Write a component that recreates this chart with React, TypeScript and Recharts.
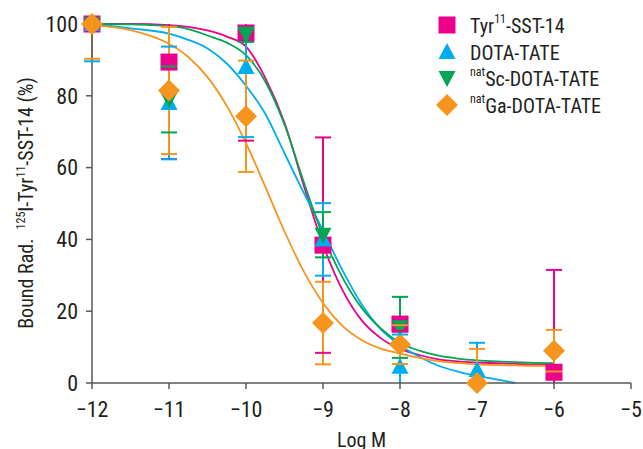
import { ComposedChart, Line, Scatter, XAxis, YAxis, Legend, Label } from 'recharts';

const FONT = "'Liberation Sans Narrow', 'Roboto Condensed', 'DejaVu Sans Condensed', sans-serif";

// measured points (log M), mean and +/- error, null = no point
const logM = [-12, -11, -10, -9, -8, -7, -6];
const tyrMean = [100, 89.4, 97.5, 38.4, 16.4, null, 3];
const tyrErr = [0, 27, 30, 30, 2, null, 28.5];
const dotaMean = [100, 78, 88, 40, 4.5, 3.6, null];
const dotaErr = [10.4, 15.7, 19.5, 10.1, 9, 7.6, null];
const scMean = [100, 79, 97, 41.3, 15.5, null, null];
const scErr = [0, 9.2, 2, 6.3, 8.5, null, null];
const gaMean = [100, 81.5, 74.3, 16.7, 10.7, 0, 9];
const gaErr = [9.7, 17.7, 15.5, 11.5, 5.4, 9.5, 5.8];

// fitted curves
const fitX = [-12, -11.5, -11, -10.75, -10.5, -10.25, -10, -9.75, -9.5, -9.25, -9, -8.75, -8.5, -8.25, -8, -7.75, -7.5, -7.25, -7, -6.75, -6.5, -6.25, -6];
const tyrFit = [100, 100, 99.7, 99.2, 98.2, 96.5, 93.7, 85, 72.5, 55, 38.5, 26, 17.5, 12.5, 9.5, 7.8, 6.6, 6.0, 5.7, 5.5, 5.3, 5.2, 5.2];
const dotaFit = [100, 98.8, 97.3, 95.6, 93.2, 89, 82.8, 75, 64, 53, 42.5, 31.5, 22, 15, 10.5, 7.3, 4.8, 3.2, 2.0, 1.0, 0, null, null];
const scFit = [100, 99.9, 99.4, 98.6, 96.8, 94.8, 91.3, 84, 72, 56, 41, 29.5, 21, 15.2, 11.2, 9, 7.6, 6.8, 6.3, 6.0, 5.8, 5.6, 5.5];
const gaFit = [99.7, 98.3, 94.5, 90.8, 85.2, 77.2, 66.8, 54.7, 42.2, 31.1, 22.3, 16, 12, 9.6, 8.2, 7.0, 6.1, 5.6, 5.2, 5.0, 4.9, 4.8, 4.8];

const xTicks = [-12, -11, -10, -9, -8, -7, -6, -5];
const yTicks = [0, 20, 40, 60, 80, 100];

const C_TYR = '#ec008c';
const C_DOTA = '#00aeef';
const C_SC = '#00a651';
const C_GA = '#f7941d';

const pts = (mean) =>
  logM.map((x, i) => ({ x, y: mean[i] })).filter(p => p.y !== null);
const fit = ys => fitX.map((x, i) => ({ x, y: ys[i] }));

// error bar stems: pairs of points split by nulls, clipped to the axis range
const stems = (mean, err) => {
  const out = [];
  logM.forEach((x, i) => {
    if (mean[i] === null || !err[i]) return;
    out.push({ x, y: Math.max(0, mean[i] - err[i]) });
    out.push({ x, y: Math.min(100, mean[i] + err[i]) });
    out.push({ x, y: null });
  });
  return out;
};
// caps only where the bar end is inside the axis range
const caps = (mean, err) => {
  const out = [];
  logM.forEach((x, i) => {
    if (mean[i] === null || !err[i]) return;
    const lo = mean[i] - err[i];
    const hi = mean[i] + err[i];
    if (lo >= 0) out.push({ x, y: lo });
    if (hi <= 100) out.push({ x, y: hi });
  });
  return out;
};

const square = (color) => (p) => <rect x={p.cx - 8.5} y={p.cy - 8.5} width={17} height={17} fill={color} />;
const triUp = (color) => (p) => (
  <polygon points={`${p.cx},${p.cy - 9} ${p.cx + 8.5},${p.cy + 7} ${p.cx - 8.5},${p.cy + 7}`} fill={color} />
);
const triDown = (color) => (p) => (
  <polygon points={`${p.cx},${p.cy + 9} ${p.cx + 8.5},${p.cy - 7} ${p.cx - 8.5},${p.cy - 7}`} fill={color} />
);
const diamond = (color) => (p) => (
  <polygon points={`${p.cx},${p.cy - 11} ${p.cx + 11},${p.cy} ${p.cx},${p.cy + 11} ${p.cx - 11},${p.cy}`} fill={color} />
);
const cap = (color) => (p) => (
  <line x1={p.cx - 8} x2={p.cx + 8} y1={p.cy} y2={p.cy} stroke={color} strokeWidth={2} />
);

const sup = { fontSize: 12, verticalAlign: 'top', lineHeight: '12px', position: 'relative', top: -1 };

const legendRows = [
  { color: C_TYR, marker: 'square', label: <span>Tyr<span style={sup}>11</span>-SST-14</span> },
  { color: C_DOTA, marker: 'up', label: <span>DOTA-TATE</span> },
  { color: C_SC, marker: 'down', label: <span><span style={sup}>nat</span>Sc-DOTA-TATE</span> },
  { color: C_GA, marker: 'diamond', label: <span><span style={sup}>nat</span>Ga-DOTA-TATE</span> },
];

function legendMarker(kind, color) {
  const p = { cx: 10, cy: 10 };
  if (kind === 'square') return square(color)(p);
  if (kind === 'up') return triUp(color)(p);
  if (kind === 'down') return triDown(color)(p);
  return diamond(color)(p);
}

function LegendBox() {
  return (
    <div style={{ fontFamily: FONT, fontSize: 20, color: '#231f20' }}>
      {legendRows.map((r, i) => (
        <div key={i} style={{ display: 'flex', alignItems: 'center', height: 26.5 }}>
          <svg width={22} height={22} style={{ marginRight: 11, overflow: 'visible' }}>
            {legendMarker(r.marker, r.color)}
          </svg>
          {r.label}
        </div>
      ))}
    </div>
  );
}

function YTitle() {
  return (
    <text transform="rotate(-90, 33, 203)" x={33} y={203} textAnchor="middle" fontSize={20} fontFamily={FONT} fill="#231f20">
      {'Bound Rad.\u00a0 '}
      <tspan dy={-8} fontSize={12}>125</tspan>
      <tspan dy={8}>I-Tyr</tspan>
      <tspan dy={-8} fontSize={12}>11</tspan>
      <tspan dy={8}>-SST-14 (%)</tspan>
    </text>
  );
}

const minus = v => String(v).replace('-', '\u2212');
const tickStyle = { fontSize: 22, fill: '#231f20', fontFamily: FONT };

export default function App() {
  const series = [
    { name: 'tyr', color: C_TYR, mean: tyrMean, err: tyrErr, fit: tyrFit, shape: square(C_TYR) },
    { name: 'dota', color: C_DOTA, mean: dotaMean, err: dotaErr, fit: dotaFit, shape: triUp(C_DOTA) },
    { name: 'sc', color: C_SC, mean: scMean, err: scErr, fit: scFit, shape: triDown(C_SC) },
    { name: 'ga', color: C_GA, mean: gaMean, err: gaErr, fit: gaFit, shape: diamond(C_GA) },
  ];
  return (
    <div>
      <style>{'body{margin:0}'}</style>
      <ComposedChart width={643} height={449} margin={{ top: 24, right: 12, left: 32, bottom: 26 }}>
        <XAxis
          dataKey="x"
          type="number"
          domain={[-12, -5]}
          ticks={xTicks}
          tickFormatter={minus}
          tickSize={6}
          tickMargin={12}
          height={40}
          stroke="#58595b"
          strokeWidth={1.5}
          tick={tickStyle}
        >
          <Label value="Log M" position="insideBottom" offset={-24} style={{ fontSize: 20, fill: '#231f20', fontFamily: FONT }} />
        </XAxis>
        <YAxis
          dataKey="y"
          type="number"
          domain={[0, 100]}
          ticks={yTicks}
          tickSize={6}
          tickMargin={8}
          width={60}
          stroke="#58595b"
          strokeWidth={1.5}
          tick={tickStyle}
        >
          <Label content={<YTitle />} />
        </YAxis>

        {series.map(s => (
          <Scatter key={s.name + 'm'} data={pts(s.mean)} dataKey="y" shape={s.shape} isAnimationActive={false} legendType="none" />
        ))}
        {series.map(s => (
          <Line key={s.name + 'f'} data={fit(s.fit)} dataKey="y" type="monotone" stroke={s.color} strokeWidth={1.8} dot={false} activeDot={false} isAnimationActive={false} legendType="none" />
        ))}
        {series.map(s => (
          <Line key={s.name + 's'} data={stems(s.mean, s.err)} dataKey="y" type="linear" stroke={s.color} strokeWidth={2} dot={false} activeDot={false} isAnimationActive={false} legendType="none" />
        ))}
        {series.map(s => (
          <Scatter key={s.name + 'c'} data={caps(s.mean, s.err)} dataKey="y" shape={cap(s.color)} isAnimationActive={false} legendType="none" />
        ))}
        <Legend
          layout="vertical"
          align="center"
          verticalAlign="middle"
          content={<LegendBox />}
          wrapperStyle={{ top: 13, left: 437, width: 'auto', height: 'auto' }}
        />
      </ComposedChart>
    </div>
  );
}
